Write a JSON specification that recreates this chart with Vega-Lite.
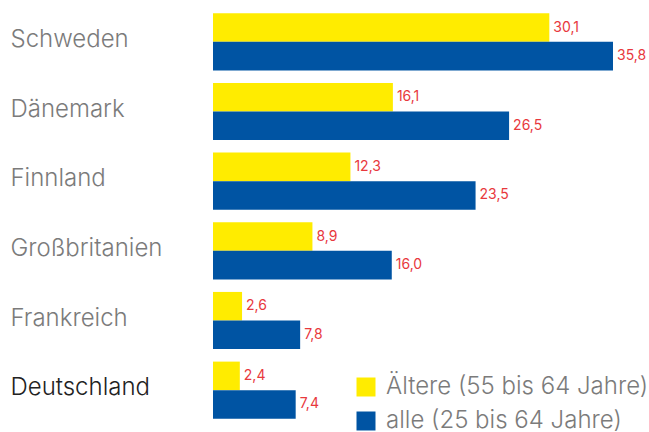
{
  "$schema": "https://vega.github.io/schema/vega-lite/v6.json",
  "autosize": {"type": "none"},
  "padding": {"left": 213, "top": 7, "right": 36, "bottom": 7},
  "width": 400,
  "height": 418,
  "background": "white",
  "config": {
    "view": {"stroke": null},
    "font": "Inter",
    "locale": {"number": {"decimal": ",", "thousands": ".", "grouping": [3], "currency": ["", " €"]}}
  },
  "data": {
    "values": [
      {"land": "Schweden", "gruppe": "Ältere (55 bis 64 Jahre)", "wert": 30.1},
      {"land": "Schweden", "gruppe": "alle (25 bis 64 Jahre)", "wert": 35.8},
      {"land": "Dänemark", "gruppe": "Ältere (55 bis 64 Jahre)", "wert": 16.1},
      {"land": "Dänemark", "gruppe": "alle (25 bis 64 Jahre)", "wert": 26.5},
      {"land": "Finnland", "gruppe": "Ältere (55 bis 64 Jahre)", "wert": 12.3},
      {"land": "Finnland", "gruppe": "alle (25 bis 64 Jahre)", "wert": 23.5},
      {"land": "Großbritanien", "gruppe": "Ältere (55 bis 64 Jahre)", "wert": 8.9},
      {"land": "Großbritanien", "gruppe": "alle (25 bis 64 Jahre)", "wert": 16.0},
      {"land": "Frankreich", "gruppe": "Ältere (55 bis 64 Jahre)", "wert": 2.6},
      {"land": "Frankreich", "gruppe": "alle (25 bis 64 Jahre)", "wert": 7.8},
      {"land": "Deutschland", "gruppe": "Ältere (55 bis 64 Jahre)", "wert": 2.4},
      {"land": "Deutschland", "gruppe": "alle (25 bis 64 Jahre)", "wert": 7.4}
    ]
  },
  "encoding": {
    "y": {
      "field": "land", "type": "nominal",
      "sort": ["Schweden", "Dänemark", "Finnland", "Großbritanien", "Frankreich", "Deutschland"],
      "scale": {"paddingInner": 0.18, "paddingOuter": 0.09},
      "axis": {
        "title": null, "domain": false, "ticks": false,
        "labelAlign": "left", "labelPadding": 203, "labelFontSize": 24,
        "labelFont": "Inter", "labelFontWeight": 300, "labelOffset": -2,
        "labelColor": {"condition": {"test": "datum.value === 'Deutschland'", "value": "#222222"}, "value": "#7b7b7b"}
      }
    },
    "yOffset": {
      "field": "gruppe", "type": "nominal",
      "sort": ["Ältere (55 bis 64 Jahre)", "alle (25 bis 64 Jahre)"],
      "scale": {"paddingInner": 0, "paddingOuter": 0}
    },
    "x": {
      "field": "wert", "type": "quantitative",
      "scale": {"domain": [0, 35.8], "nice": false},
      "axis": null
    }
  },
  "layer": [
    {
      "mark": {"type": "bar"},
      "encoding": {
        "color": {
          "field": "gruppe", "type": "nominal",
          "sort": ["Ältere (55 bis 64 Jahre)", "alle (25 bis 64 Jahre)"],
          "scale": {"domain": ["Ältere (55 bis 64 Jahre)", "alle (25 bis 64 Jahre)"], "range": ["#ffec00", "#0054a3"]},
          "legend": {
            "title": null, "orient": "none", "legendX": 141, "legendY": 368,
            "symbolType": "square", "symbolSize": 361, "symbolStrokeWidth": 0, "symbolOpacity": 1,
            "labelFontSize": 24, "labelColor": "#7b7b7b", "labelFont": "Inter", "labelFontWeight": 300,
            "labelOffset": 8, "rowPadding": 10, "labelLimit": 400
          }
        }
      }
    },
    {
      "mark": {"type": "text", "align": "left", "baseline": "middle", "dx": 4, "fontSize": 14, "color": "#e8383d"},
      "encoding": {
        "text": {"field": "wert", "type": "quantitative", "format": ".1f"}
      }
    }
  ]
}
